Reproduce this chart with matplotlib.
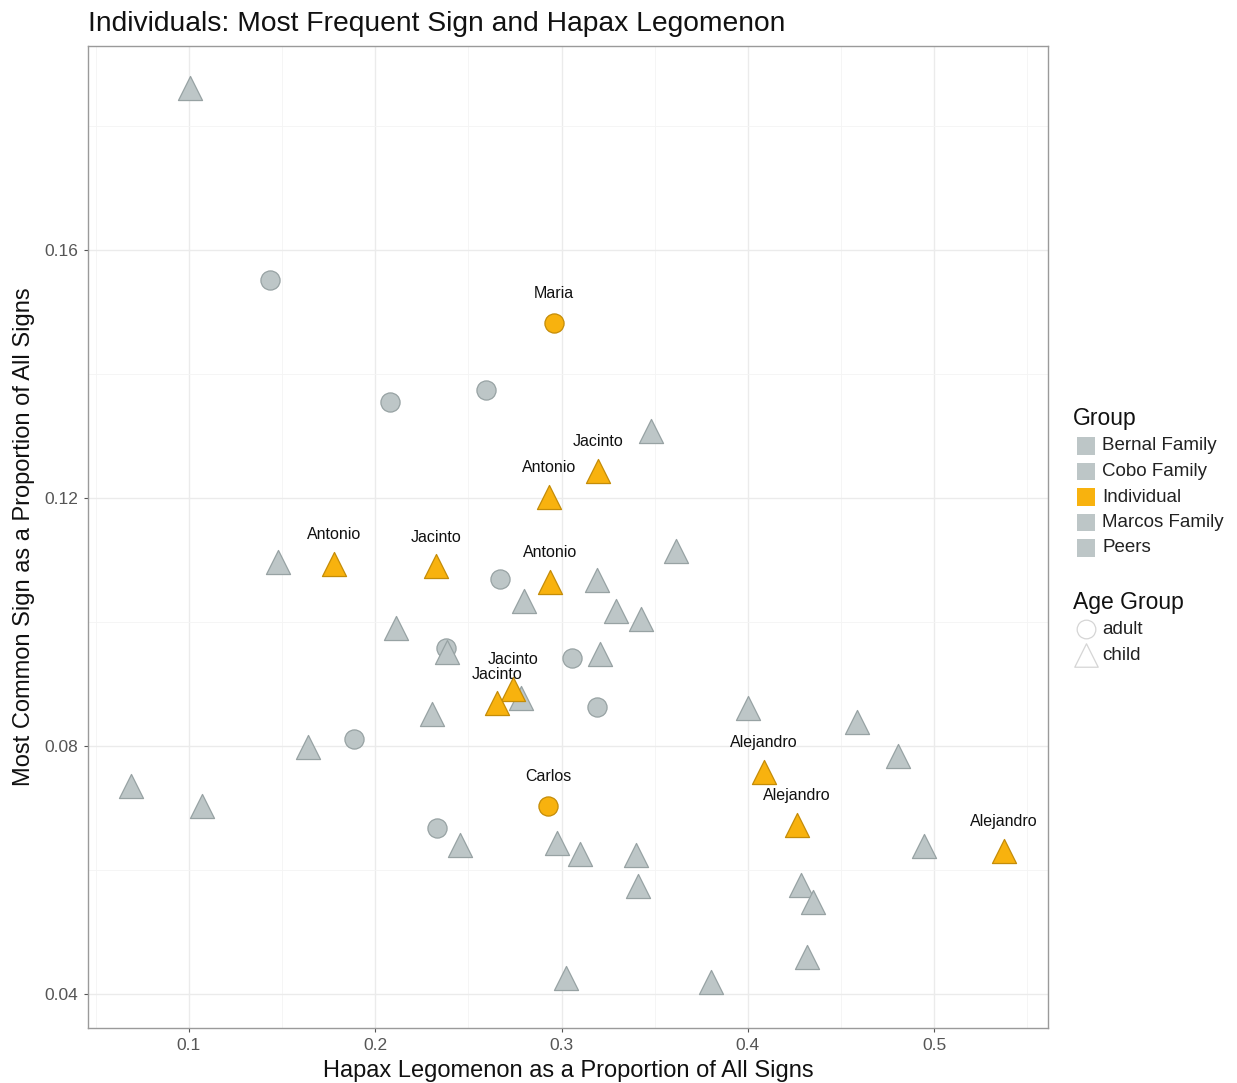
import matplotlib
matplotlib.use("Agg")
import matplotlib.pyplot as plt
from matplotlib.ticker import MultipleLocator

plt.rcParams['font.family'] = ['Liberation Sans', 'DejaVu Sans']

# Comparison speakers (grey): hapax proportion, most common sign proportion, age group
peer_x = [0.1005, 0.1478, 0.2111, 0.2385, 0.2304, 0.1639, 0.0689, 0.1070, 0.2455,
          0.2798, 0.2782, 0.2975, 0.3024, 0.3190, 0.3292, 0.3426, 0.3206, 0.3480,
          0.3614, 0.3099, 0.3399, 0.3410, 0.3802, 0.4001, 0.4586, 0.4806, 0.4945,
          0.4285, 0.4349, 0.4317,
          0.1435, 0.2079, 0.2594, 0.2669, 0.2380, 0.3056, 0.3190, 0.1886, 0.2331]
peer_y = [0.1861, 0.1097, 0.0990, 0.0952, 0.0852, 0.0798, 0.0735, 0.0703, 0.0640,
          0.1034, 0.0877, 0.0644, 0.0426, 0.1068, 0.1018, 0.1005, 0.0948, 0.1308,
          0.1114, 0.0626, 0.0624, 0.0574, 0.0419, 0.0861, 0.0839, 0.0784, 0.0639,
          0.0576, 0.0548, 0.0460,
          0.1552, 0.1355, 0.1374, 0.1069, 0.0958, 0.0942, 0.0863, 0.0811, 0.0668]
peer_age = ['child'] * 30 + ['adult'] * 9

# Highlighted individuals (orange)
ind_name = ['Maria', 'Carlos', 'Antonio', 'Jacinto', 'Antonio', 'Jacinto', 'Antonio',
            'Jacinto', 'Jacinto', 'Alejandro', 'Alejandro', 'Alejandro']
ind_x = [0.2959, 0.2927, 0.1778, 0.2326, 0.2932, 0.3195, 0.2938, 0.2739, 0.2653,
         0.4086, 0.4264, 0.5375]
ind_y = [0.1482, 0.0703, 0.1094, 0.1090, 0.1202, 0.1244, 0.1065, 0.0892, 0.0869,
         0.0758, 0.0673, 0.0631]
ind_age = ['adult', 'adult'] + ['child'] * 10

group_labels = ['Bernal Family', 'Cobo Family', 'Individual', 'Marcos Family', 'Peers']
age_labels = ['adult', 'child']

GREY_FILL = '#BDC6C7'
GREY_EDGE = '#97A2A3'
ORANGE_FILL = '#F8B20E'
ORANGE_EDGE = '#C48C08'
SHAPE = {'adult': 'o', 'child': '^'}
SIZE = {'adult': 190, 'child': 300}

fig = plt.figure(figsize=(12.37, 10.83), dpi=100)
ax = fig.add_axes([0.0711, 0.0508, 0.7761, 0.9067])

ax.set_xlim(0.0458, 0.5611)
ax.set_ylim(0.0345, 0.1929)

ax.xaxis.set_minor_locator(MultipleLocator(0.05))
ax.yaxis.set_minor_locator(MultipleLocator(0.02))
ax.set_xticks([0.1, 0.2, 0.3, 0.4, 0.5])
ax.set_xticklabels(['0.1', '0.2', '0.3', '0.4', '0.5'])
ax.set_yticks([0.04, 0.08, 0.12, 0.16])
ax.set_yticklabels(['0.04', '0.08', '0.12', '0.16'])

ax.grid(which='major', color='#EBEBEB', linewidth=1.0, zorder=0)
ax.grid(which='minor', color='#F4F4F4', linewidth=0.6, zorder=0)
ax.set_axisbelow(True)
for sp in ax.spines.values():
    sp.set_color('#9A9A9A')
    sp.set_linewidth(1.0)
ax.tick_params(which='major', length=3, color='#555555', labelcolor='#555555',
               labelsize=12.5, pad=4)
ax.tick_params(which='minor', length=0)

for age in age_labels:
    xs = [x for x, a in zip(peer_x, peer_age) if a == age]
    ys = [y for y, a in zip(peer_y, peer_age) if a == age]
    ax.scatter(xs, ys, marker=SHAPE[age], s=SIZE[age], facecolor=GREY_FILL,
               edgecolor=GREY_EDGE, linewidth=0.9, zorder=3)

for age in age_labels:
    xs = [x for x, a in zip(ind_x, ind_age) if a == age]
    ys = [y for y, a in zip(ind_y, ind_age) if a == age]
    ax.scatter(xs, ys, marker=SHAPE[age], s=SIZE[age], facecolor=ORANGE_FILL,
               edgecolor=ORANGE_EDGE, linewidth=0.9, zorder=4)

for name, x, y in zip(ind_name, ind_x, ind_y):
    ax.text(x, y + 0.0047, name, ha='center', va='center', fontsize=11.5,
            color='#111111', zorder=5)

ax.set_xlabel('Hapax Legomenon as a Proportion of All Signs', fontsize=17,
              color='#111111', labelpad=5)
ax.set_ylabel('Most Common Sign as a Proportion of All Signs', fontsize=17,
              color='#111111', labelpad=7)
fig.text(0.0711, 0.978, 'Individuals: Most Frequent Sign and Hapax Legomenon',
         fontsize=20.3, color='#111111', ha='left', va='center')

# Legend drawn on an overlay axes in pixel coordinates
lax = fig.add_axes([0, 0, 1, 1], facecolor='none')
lax.set_xlim(0, 1237)
lax.set_ylim(1083, 0)
lax.axis('off')

lax.text(1073, 418, 'Group', fontsize=16.5, color='#111111', va='center', ha='left')
for i, lab in enumerate(group_labels):
    yy = 446 + i * 25.5
    col = ORANGE_FILL if lab == 'Individual' else GREY_FILL
    lax.scatter([1086], [yy], marker='s', s=150, facecolor=col, edgecolor='none')
    lax.text(1102, yy, lab, fontsize=13.5, color='#222222', va='center', ha='left')

lax.text(1073, 602, 'Age Group', fontsize=16.5, color='#111111', va='center', ha='left')
for i, lab in enumerate(age_labels):
    yy = 629 + i * 26
    lax.scatter([1086], [yy], marker=SHAPE[lab], s=SIZE[lab] * 0.95, facecolor='white',
                edgecolor='#D5D5D5', linewidth=0.9)
    lax.text(1102, yy, lab, fontsize=13.5, color='#222222', va='center', ha='left')

fig.savefig('out.png', dpi=100, facecolor='white')
